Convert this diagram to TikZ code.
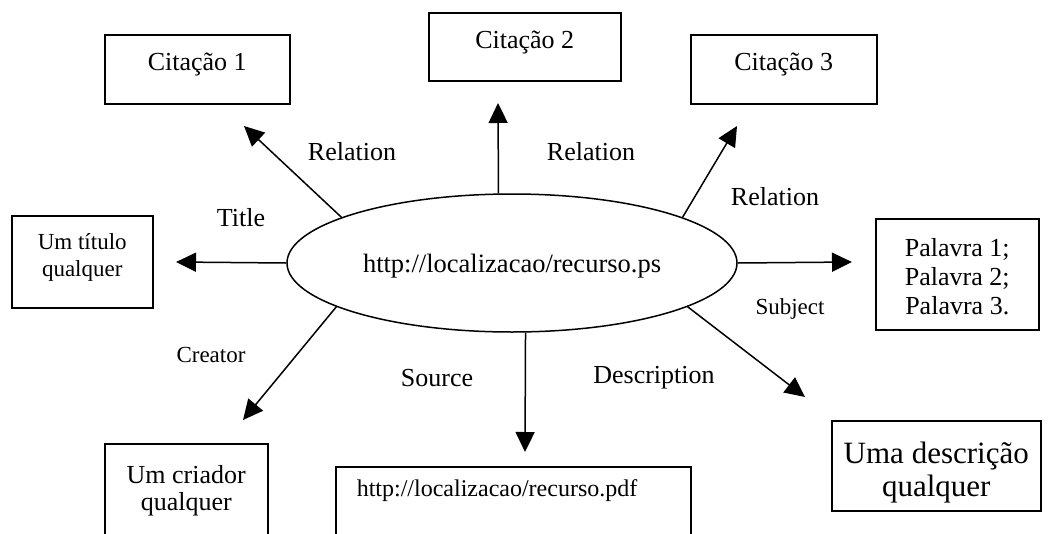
\documentclass[tikz,border=0pt]{standalone}
\usepackage{fontspec}
\setmainfont{Liberation Serif}
\usetikzlibrary{shapes.geometric,arrows.meta}

\begin{document}
\begin{tikzpicture}[x=1pt,y=-1pt]
    \tikzset{caixa/.style={draw,rectangle,line width=1.5pt,inner sep=0pt,anchor=north west,font=\fontsize{26}{29}\selectfont},
             rotulo/.style={inner sep=0pt,font=\fontsize{26}{29}\selectfont},
             pequeno/.style={font=\fontsize{23}{27}\selectfont},
             seta/.style={line width=1.5pt,-{Triangle[length=20pt,width=19pt]}}}
    \useasboundingbox (0,0) rectangle (1057,533);
    \clip (0,0) rectangle (1057,533);

    \node[draw,ellipse,line width=1.5pt,minimum width=450pt,minimum height=138pt,text height=20pt,text depth=2pt,font=\fontsize{26.5}{30}\selectfont] (rec) at (512,263) {http://localizacao/recurso.ps};

    \node[caixa,minimum width=185pt,text height=36pt,text depth=33pt] (cit1) at (104,34) {Citação 1};
    \node[caixa,minimum width=192pt,text height=36pt,text depth=32pt] (cit2) at (428,12) {Citação 2};
    \node[caixa,minimum width=186pt,text height=36pt,text depth=33pt] (cit3) at (690,34) {Citação 3};
    \node[caixa,pequeno,minimum width=141pt,text height=61pt,text depth=31pt,align=center] (titulo) at (11,215) {Um título\\qualquer};
    \node[caixa,minimum width=163pt,text height=96pt,text depth=15pt,align=center] (palavras) at (875,218) {Palavra 1;\\Palavra 2;\\Palavra 3.};
    \node[caixa,minimum width=163pt,text height=67pt,text depth=40pt,align=center,font=\fontsize{26}{27}\selectfont] (criador) at (104,443) {Um criador\\qualquer};
    \node[caixa,text width=313pt,inner xsep=21pt,align=left,text height=30pt,text depth=70pt,font=\fontsize{24}{28}\selectfont] (fonte) at (335,466) {http://localizacao/recurso.pdf};
    \node[caixa,minimum width=209pt,text height=76pt,text depth=14pt,align=center,font=\fontsize{31}{33}\selectfont] (descricao) at (831,420) {Uma descrição\\qualquer};

    \node[rotulo] (lTitle) at (241,218) {Title};
    \node[rotulo] (lRel1) at (352,152) {Relation};
    \node[rotulo] (lRel2) at (591,152) {Relation};
    \node[rotulo] (lRel3) at (775,197) {Relation};
    \node[rotulo,pequeno] (lSubj) at (790,309) {Subject};
    \node[rotulo,pequeno] (lCria) at (211,355) {Creator};
    \node[rotulo] (lFonte) at (437,378) {Source};
    \node[rotulo] (lDesc) at (654,378) {Description};

    \coordinate (pTitle) at (176,262);
    \coordinate (pRel1) at (244,126);
    \coordinate (pRel2) at (498,103);
    \coordinate (pRel3) at (737,126);
    \coordinate (pSubj) at (852,262);
    \coordinate (pCria) at (243,420);
    \coordinate (pFonte) at (525,452);
    \coordinate (pDesc) at (805,397);

    \draw[seta] (rec.180) -- (pTitle);
    \draw[seta] (rec.165) -- (pRel1);
    \draw[seta] (rec.101) -- (pRel2);
    \draw[seta] (rec.15) -- (pRel3);
    \draw[seta] (rec.0) -- (pSubj);
    \draw[seta] (rec.194) -- (pCria);
    \draw[seta] (rec.281) -- (pFonte);
    \draw[seta] (rec.346) -- (pDesc);
\end{tikzpicture}
\end{document}
